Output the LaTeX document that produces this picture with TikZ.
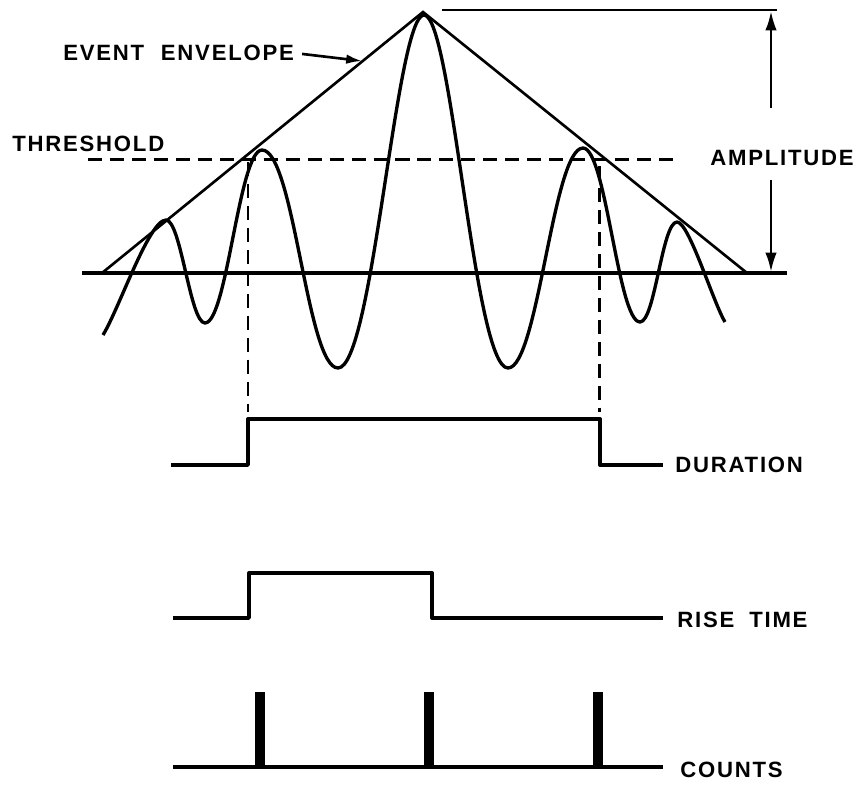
\documentclass[tikz,border=0pt]{standalone}
\usepackage{fontspec}
\setmainfont{Liberation Sans}
\newfontfamily\lblfont[LetterSpace=8]{Liberation Sans}
\usepackage{tikz}
\usetikzlibrary{arrows.meta,calc,positioning}

\tikzset{
  trace/.style={line width=1.9pt, line join=round},
  thin trace/.style={line width=1.5pt},
  guide/.style={line width=1.7pt, dash pattern=on 8pt off 4.5pt},
  countbar/.style={line width=5.6pt},
  lbl/.style={font=\lblfont\fontsize{12.6}{14}\bfseries, inner sep=0pt, anchor=west},
}

\begin{document}
\begin{tikzpicture}[x=0.02cm,y=-0.02cm]
          \useasboundingbox (0,0) rectangle (854,785);
          % Define coordinates
          \coordinate (envL) at (102,273);
          \coordinate (apex) at (423,12);
          \coordinate (envR) at (747,273);
          \coordinate (envPt) at (362,61);
          \coordinate (ampTop) at (771,11);
          \coordinate (ampBot) at (771,272);
          \coordinate (ampGapT) at (771,108);
          \coordinate (ampGapB) at (771,180);
          % Labels
          \node[lbl] (evtlbl) at (63,53) {EVENT\hspace{5pt} ENVELOPE};
          \node[lbl] (thrlbl) at (12,144) {THRESHOLD};
          \node[lbl] (amplbl) at (710,158) {AMPLITUDE};
          \node[lbl] (durlbl) at (675,465) {DURATION};
          \node[lbl] (riselbl) at (677,620) {RISE\hspace{4pt} TIME};
          \node[lbl] (cntlbl) at (680,770) {COUNTS};
          % Baseline and envelope
          \draw[trace] (82,273) -- (787,273);
          \draw[thin trace] (envL) -- (apex) -- (envR);
          \draw[-{Latex[length=9pt,width=5.5pt]}, thin trace, shorten <=4.5pt] (evtlbl.east) -- (envPt);
          % Amplitude
          \draw[thin trace] (442,10) -- (777,10);
          \draw[-{Latex[length=11pt,width=6.5pt]}, thin trace] (ampGapT) -- (ampTop);
          \draw[-{Latex[length=11pt,width=6.5pt]}, thin trace] (ampGapB) -- (ampBot);
          % Signal
          \draw[trace] (103,335) .. controls +(16,-26) and +(-17,0) .. (166,220)
            .. controls +(15,0) and +(-15,0) .. (205,323)
            .. controls +(22,0) and +(-23,0) .. (262,150)
            .. controls +(32,0) and +(-31,0) .. (338,368)
            .. controls +(35,0) and +(-28,0) .. (424,15)
            .. controls +(28,0) and +(-34,0) .. (508,368)
            .. controls +(30,0) and +(-30,0) .. (583,148)
            .. controls +(23,0) and +(-22,0) .. (640,322)
            .. controls +(15,0) and +(-15,0) .. (677,222)
            .. controls +(12,0) and +(-12,-20) .. (725,322);
          % Threshold
          \draw[guide] (88,159) -- (678,159);
          \draw[guide] (248,162) -- (248,412);
          \draw[guide] (599,166) -- (599,412);
          % Duration
          \draw[trace] (171,465) -- (248,465) -- (248,419) -- (600,419) -- (600,465) -- (663,465);
          % Rise time
          \draw[trace] (173,618) -- (249,618) -- (249,573) -- (432,573) -- (432,618) -- (663,618);
          % Counts
          \draw[trace] (173,767) -- (663,767);
          \foreach \x in {260,429,598}
            \draw[countbar] (\x,767) -- (\x,692);
        \end{tikzpicture}
\end{document}
